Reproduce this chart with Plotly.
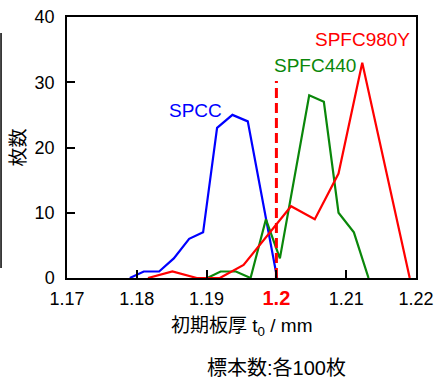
import plotly.graph_objects as go

# ---- data ----
spcc_x = [1.179, 1.181, 1.1832, 1.1853, 1.1875, 1.1895, 1.1915, 1.1937, 1.1959, 1.2001]
spcc_y = [0, 1, 1, 3, 6, 7, 23, 25, 24, 0]

spfc440_x = [1.1901, 1.1920, 1.1942, 1.1963, 1.1985, 1.2005, 1.2047, 1.2068, 1.2089, 1.2111, 1.2132]
spfc440_y = [0, 1, 1, 0, 9, 3, 28, 27, 10, 7, 0]

spfc980_x = [1.1816, 1.1851, 1.1886, 1.1919, 1.1953, 1.2021, 1.2055, 1.2089, 1.2123, 1.2157, 1.2191]
spfc980_y = [0, 1, 0, 0, 2, 11, 9, 16, 33, 16.5, 0]

nominal_x = [1.2, 1.2]
nominal_y = [0, 30.2]

x_tickvals = [1.17, 1.18, 1.19, 1.2, 1.21, 1.22]
x_ticktext = ["1.17", "1.18", "1.19",
              "<b><span style='color:#ff0000;font-size:20px'>1.2</span></b>", "1.21", "1.22"]
y_tickvals = [0, 10, 20, 30, 40]

FONT = "Liberation Sans, Arial, Noto Sans CJK JP"
BLUE = "#0000ff"
GREEN = "#0a870a"
RED = "#ff0000"

fig = go.Figure()
fig.add_trace(go.Scatter(x=spcc_x, y=spcc_y, mode="lines", line=dict(color=BLUE, width=2.2), showlegend=False))
fig.add_trace(go.Scatter(x=spfc440_x, y=spfc440_y, mode="lines", line=dict(color=GREEN, width=2.2), showlegend=False))
fig.add_trace(go.Scatter(x=spfc980_x, y=spfc980_y, mode="lines", line=dict(color=RED, width=2.2), showlegend=False))
fig.add_trace(go.Scatter(x=nominal_x, y=nominal_y, mode="lines",
                         line=dict(color=RED, width=3, dash="10px,5px"), showlegend=False))

fig.update_layout(
    width=436, height=381,
    margin=dict(l=67, r=20, t=17, b=103, autoexpand=False),
    paper_bgcolor="white", plot_bgcolor="white",
    font=dict(family=FONT, size=18, color="black"),
    xaxis=dict(range=[1.17, 1.22], tickvals=x_tickvals, ticktext=x_ticktext,
               ticks="inside", ticklen=8, tickwidth=1.5, tickcolor="black",
               showline=True, linecolor="black", linewidth=1.5, mirror=True, automargin=False,
               showgrid=False, zeroline=False, tickfont=dict(size=18), ticklabelstandoff=4),
    yaxis=dict(range=[0, 40], tickvals=y_tickvals,
               ticks="inside", ticklen=8, tickwidth=1.5, tickcolor="black",
               showline=True, linecolor="black", linewidth=1.5, mirror=True, automargin=False,
               showgrid=False, zeroline=False, tickfont=dict(size=18), ticklabelstandoff=7),
)

ann = [
    dict(x=1.1884, y=25.6, xref="x", yref="y", text="SPCC", font=dict(color=BLUE, size=19)),
    dict(x=1.2056, y=32.6, xref="x", yref="y", text="SPFC440", font=dict(color=GREEN, size=19)),
    dict(x=1.2123, y=36.5, xref="x", yref="y", text="SPFC980Y", font=dict(color=RED, size=19)),
    dict(x=0.5, y=-0.186, xref="paper", yref="paper", text="初期板厚 t<sub>0</sub> / mm", font=dict(size=19)),
    dict(x=0.599, y=-0.343, xref="paper", yref="paper", text="標本数:各100枚", font=dict(size=20)),
    dict(x=-0.1404, y=0.5, xref="paper", yref="paper", text="枚数", textangle=-90, font=dict(size=19)),
]
for a in ann:
    a.update(showarrow=False, xanchor="center", yanchor="middle")
    fig.add_annotation(**a)

fig.add_shape(type="line", xref="paper", yref="paper", x0=-0.189, x1=-0.189, y0=0.038, y1=0.939,
              line=dict(color="black", width=1.5))

fig.write_html("out.html")
